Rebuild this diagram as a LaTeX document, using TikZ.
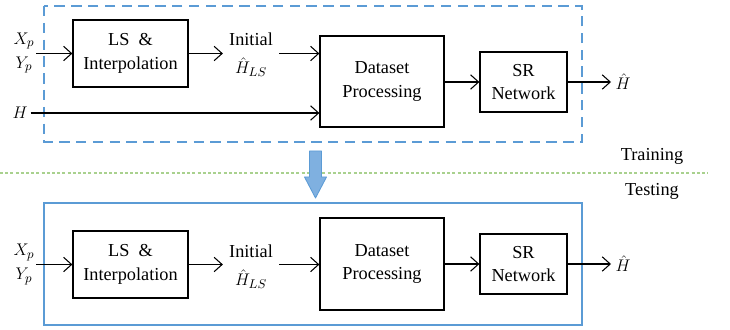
\documentclass[tikz,border=0pt]{standalone}
\usepackage{fontspec}
\setmainfont{Liberation Serif}
\usetikzlibrary{arrows.meta}
\definecolor{frameblue}{HTML}{5B9BD5}
\definecolor{lightgreen}{HTML}{A9D18E}
\definecolor{arrowfill}{HTML}{7FB0E0}

\begin{document}
\begin{tikzpicture}[x=0.25mm,y=-0.25mm,font=\fontsize{13}{17}\selectfont,
  blk/.style={draw,line width=0.9pt,align=center,inner sep=0pt},
  lbl/.style={align=center,inner sep=2pt},
  >={Straight Barb[length=2mm,width=3.6mm]},
  flow/.style={->,line width=0.75pt}]
\useasboundingbox (0,0) rectangle (730,330);

% training
\draw[frameblue,line width=1.2pt,dash pattern=on 2.6mm off 1.6mm] (44,6) rectangle (582,142);
\node (ls1) at (130.5,53.5) [blk,minimum width=28.75mm,minimum height=16.75mm] {LS~~\&\\Interpolation};
\node (dp1) at (382,81.5) [blk,minimum width=31mm,minimum height=22.75mm] {Dataset\\Processing};
\node (sr1) at (523.5,82) [blk,minimum width=21.75mm,minimum height=15mm] {SR\\Network};
\node (xy1) at (24,53) [lbl,inner sep=1pt] {$X_p$\\$Y_p$};
\node (init1) at (251,55) [lbl,inner sep=1.5mm] {Initial\\[3pt]$\hat{H}_{LS}$};
\node (h1) at (20,113) [lbl] {$H$};
\node (out1) at (623,82) [lbl,inner sep=3pt] {$\hat{H}$};

\draw[flow] (xy1.east |- ls1) to (ls1.west);
\draw[flow] (ls1.east) to (ls1.east -| init1.west);
\draw[flow] (init1.east |- ls1) to (ls1 -| dp1.west);
\draw[flow] (h1) to (h1 -| dp1.west);
\draw[flow] (dp1.east |- sr1) to (sr1.west);
\draw[flow] (sr1) to (out1);

% separator
\draw[lightgreen,line width=1.3pt,dash pattern=on 0.75mm off 0.55mm] (0,173) -- (708,173);
\node (train) at (652,156) {Training};
\node (test) at (652,191) {Testing};
\draw[frameblue,fill=arrowfill,line width=0.6pt,line join=round]
  (309.5,151) -- (321.5,151) -- (321.5,177) -- (326.5,177) -- (315.5,198)
  -- (304.5,177) -- (309.5,177) -- cycle;

% testing
\draw[frameblue,line width=1.2pt] (44,203) rectangle (582,325);
\node (ls2) at (130.5,264.5) [blk,minimum width=28.75mm,minimum height=16.75mm] {LS~~\&\\Interpolation};
\node (dp2) at (382,264) [blk,minimum width=31mm,minimum height=23mm] {Dataset\\Processing};
\node (sr2) at (523.5,264) [blk,minimum width=21.75mm,minimum height=15mm] {SR\\Network};
\node (xy2) at (24,264.5) [lbl,inner sep=1pt] {$X_p$\\$Y_p$};
\node (init2) at (251,266.5) [lbl,inner sep=1.5mm] {Initial\\[3pt]$\hat{H}_{LS}$};
\node (out2) at (623,264) [lbl,inner sep=3pt] {$\hat{H}$};

\draw[flow] (xy2.east |- ls2) to (ls2.west);
\draw[flow] (ls2.east) to (ls2.east -| init2.west);
\draw[flow] (init2.east |- ls2) to (ls2 -| dp2.west);
\draw[flow] (dp2.east |- sr2) to (sr2.west);
\draw[flow] (sr2) to (out2);
\end{tikzpicture}
\end{document}
